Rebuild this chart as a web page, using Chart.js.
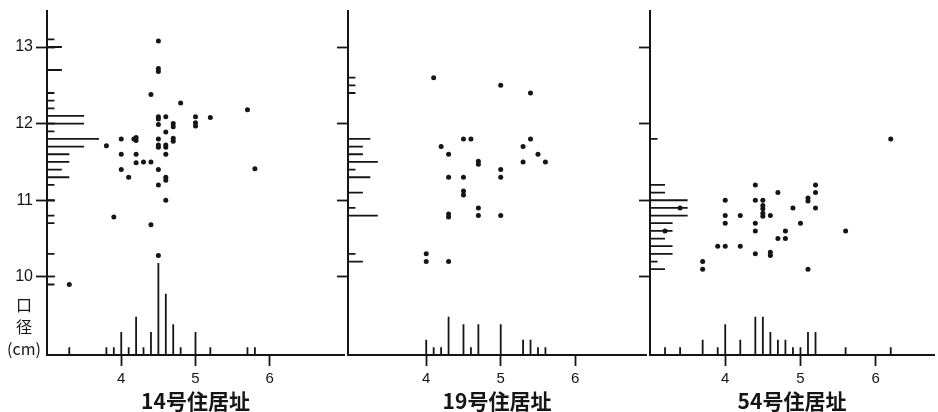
<!DOCTYPE html>
<html>
<head>
<meta charset="utf-8">
<script src="https://cdn.jsdelivr.net/npm/chart.js@4.4.0/dist/chart.umd.min.js"></script>
<style>
  body { margin: 0; background: #fff; }
  #wrap { position: relative; width: 938px; height: 412px; overflow: hidden; background: #fff; }
  .panel { position: absolute; top: 0; }
  #ylabel { position: absolute; left: 0; top: 293px; width: 48px; text-align: center;
            font: 16px/22px 'Noto Sans CJK JP'; color: #151515; }
</style>
</head>
<body>
<div id="wrap">
  <canvas id="c14" class="panel" width="348" height="412" style="left:0"></canvas>
  <canvas id="c19" class="panel" width="349" height="412" style="left:301px"></canvas>
  <canvas id="c54" class="panel" width="335" height="412" style="left:603px"></canvas>
  <div id="ylabel">口<br>径<br>(cm)</div>
</div>
<script>
// tick values shared by the three panels
const yTicks = [10, 11, 12, 13];
const xTicks = [4, 5, 6];
const titles = ['14号住居址', '19号住居址', '54号住居址'];

// 14号住居址 : points (x = bottom axis, y = 口径)
const h14X = [3.3, 3.8, 3.9, 4.0, 4.0, 4.0, 4.1, 4.17, 4.2, 4.2, 4.2, 4.2, 4.3, 4.4, 4.4, 4.4,
              4.5, 4.5, 4.5, 4.5, 4.5, 4.5, 4.5, 4.5, 4.5, 4.5, 4.5, 4.5,
              4.6, 4.6, 4.6, 4.6, 4.6, 4.6, 4.6, 4.6, 4.7, 4.7, 4.7, 4.7, 4.8,
              5.0, 5.0, 5.0, 5.2, 5.7, 5.8];
const h14Y = [9.9, 11.71, 10.78, 11.8, 11.6, 11.4, 11.3, 11.8, 11.82, 11.78, 11.6, 11.49, 11.5, 12.38, 11.5, 10.68,
              13.08, 12.72, 12.68, 12.09, 12.06, 11.99, 11.8, 11.72, 11.69, 11.4, 11.2, 10.28,
              12.09, 11.89, 11.72, 11.69, 11.6, 11.3, 11.26, 11.0, 12.0, 11.96, 11.81, 11.77, 12.27,
              12.09, 12.01, 11.97, 12.08, 12.18, 11.41];
const h14BinX = [3.3, 3.8, 3.9, 4.0, 4.1, 4.2, 4.3, 4.4, 4.5, 4.6, 4.7, 4.8, 5.0, 5.2, 5.7, 5.8];
const h14CntX = [1, 1, 1, 3, 1, 5, 1, 3, 12, 8, 4, 1, 3, 1, 1, 1];
const h14BinY = [13.1, 13.0, 12.7, 12.4, 12.3, 12.2, 12.1, 12.0, 11.9, 11.8, 11.7, 11.6, 11.5, 11.4, 11.3, 11.2, 11.0, 10.8, 10.7, 10.3, 9.9];
const h14CntY = [1, 2, 2, 1, 1, 1, 5, 5, 1, 7, 5, 3, 3, 2, 3, 1, 1, 1, 1, 1, 1];

// 19号住居址
const h19X = [4.0, 4.0, 4.1, 4.2, 4.3, 4.3, 4.3, 4.3, 4.3, 4.5, 4.5, 4.5, 4.5, 4.6,
              4.7, 4.7, 4.7, 4.7, 5.0, 5.0, 5.0, 5.0, 5.3, 5.3, 5.4, 5.4, 5.5, 5.6];
const h19Y = [10.3, 10.2, 12.6, 11.7, 11.6, 11.3, 10.82, 10.78, 10.2, 11.8, 11.3, 11.12, 11.07, 11.8,
              11.51, 11.47, 10.9, 10.8, 12.5, 11.4, 11.3, 10.8, 11.7, 11.5, 12.4, 11.8, 11.6, 11.5];
const h19BinX = [4.0, 4.1, 4.2, 4.3, 4.5, 4.6, 4.7, 5.0, 5.3, 5.4, 5.5, 5.6];
const h19CntX = [2, 1, 1, 5, 4, 1, 4, 4, 2, 2, 1, 1];
const h19BinY = [12.6, 12.5, 12.4, 11.8, 11.7, 11.6, 11.5, 11.4, 11.3, 11.1, 10.9, 10.8, 10.3, 10.2];
const h19CntY = [1, 1, 1, 3, 2, 2, 4, 1, 3, 2, 1, 4, 1, 2];

// 54号住居址
const h54X = [3.2, 3.4, 3.7, 3.7, 3.9, 4.0, 4.0, 4.0, 4.0, 4.2, 4.2, 4.4, 4.4, 4.4, 4.4, 4.4,
              4.5, 4.5, 4.5, 4.5, 4.5, 4.6, 4.6, 4.6, 4.7, 4.7, 4.8, 4.8, 4.9, 5.0,
              5.1, 5.1, 5.1, 5.2, 5.2, 5.2, 5.6, 6.2];
const h54Y = [10.6, 10.9, 10.2, 10.1, 10.4, 11.0, 10.8, 10.7, 10.4, 10.8, 10.4, 11.2, 11.0, 10.7, 10.6, 10.3,
              11.0, 10.93, 10.89, 10.83, 10.79, 10.8, 10.32, 10.28, 11.1, 10.5, 10.6, 10.5, 10.9, 10.7,
              11.03, 10.99, 10.1, 11.2, 11.1, 10.9, 10.6, 11.8];
const h54BinX = [3.2, 3.4, 3.7, 3.9, 4.0, 4.2, 4.4, 4.5, 4.6, 4.7, 4.8, 4.9, 5.0, 5.1, 5.2, 5.6, 6.2];
const h54CntX = [1, 1, 2, 1, 4, 2, 5, 5, 3, 2, 2, 1, 1, 3, 3, 1, 1];
const h54BinY = [11.8, 11.2, 11.1, 11.0, 10.9, 10.8, 10.7, 10.6, 10.5, 10.4, 10.3, 10.2, 10.1];
const h54CntY = [1, 2, 2, 5, 5, 5, 3, 3, 2, 3, 3, 1, 2];

const INK = '#151515';
const Y_MIN = 8.98, Y_MAX = 13.47;
const PER_COUNT = 0.1; // one item = 0.1 unit of bar length

// histogram stems along an axis, separated by gaps
function stems(bins, counts, base, horizontal) {
    const out = [];
    bins.forEach((b, i) => {
        const tip = base + counts[i] * PER_COUNT;
        if (horizontal) out.push({ x: base, y: b }, { x: tip, y: b });
        else out.push({ x: b, y: base }, { x: b, y: tip });
        out.push({ x: null, y: null });
    });
    return out;
}

function makePanel(id, cfg) {
    const stemStyle = {
        showLine: true, borderColor: INK, borderWidth: 1.8,
        pointRadius: 0, spanGaps: false, clip: false,
    };
    const scales = {
        x: {
            type: 'linear', min: cfg.xMin, max: cfg.xMax,
            afterBuildTicks: (s) => { s.ticks = xTicks.map((v) => ({ value: v })); },
            afterFit: (s) => { s.height = 57; },
            grid: { drawOnChartArea: false, tickLength: 11, tickWidth: 1.8, tickColor: INK },
            border: { display: true, color: INK, width: 2 },
            ticks: { color: INK, padding: 4, font: { family: 'Liberation Sans', size: 15 }, callback: (v) => String(v) },
            title: {
                display: true, text: cfg.title, color: INK, padding: 0,
                font: { family: "'Noto Sans CJK JP', sans-serif", size: 21, weight: 'bold', lineHeight: 1 },
            },
        },
        y: {
            type: 'linear', position: 'left', min: Y_MIN, max: Y_MAX, weight: 1,
            afterBuildTicks: (s) => { s.ticks = yTicks.map((v) => ({ value: v })); },
            afterFit: (s) => { s.width = 47; },
            grid: { drawOnChartArea: false, tickLength: 11, tickWidth: 1.8, tickColor: INK },
            border: { display: true, color: INK, width: 2 },
            ticks: {
                display: cfg.labels, color: INK, padding: 3,
                font: { family: 'Liberation Sans', size: 16, lineHeight: 1 },
                callback: (v) => String(v),
            },
        },
    };
    if (cfg.labels) {
        // first panel: tick marks cross the axis
        scales.y2 = {
            type: 'linear', position: 'left', min: Y_MIN, max: Y_MAX, weight: 0,
            afterBuildTicks: (s) => { s.ticks = yTicks.map((v) => ({ value: v })); },
            afterFit: (s) => { s.width = 0; },
            grid: { drawOnChartArea: false, tickLength: -8, tickWidth: 1.8, tickColor: INK },
            border: { display: false },
            ticks: { display: false },
        };
    }
    return new Chart(document.getElementById(id), {
        type: 'scatter',
        data: {
            datasets: [
                { ...stemStyle, data: stems(cfg.binX, cfg.cntX, Y_MIN, false) },
                { ...stemStyle, data: stems(cfg.binY, cfg.cntY, cfg.xMin, true) },
                {
                    data: cfg.xs.map((x, i) => ({ x: x, y: cfg.ys[i] })),
                    pointRadius: 2.5, pointBackgroundColor: INK, pointBorderWidth: 0, showLine: false,
                },
            ],
        },
        options: {
            responsive: false,
            animation: false,
            devicePixelRatio: 1,
            events: [],
            layout: { padding: { top: 11, right: 0, bottom: 0, left: 0 } },
            plugins: { legend: { display: false }, tooltip: { enabled: false } },
            scales: scales,
        },
    });
}

makePanel('c14', { title: titles[0], xs: h14X, ys: h14Y, binX: h14BinX, cntX: h14CntX,
    binY: h14BinY, cntY: h14CntY, xMin: 3, xMax: 7, labels: true });
makePanel('c19', { title: titles[1], xs: h19X, ys: h19Y, binX: h19BinX, cntX: h19CntX,
    binY: h19BinY, cntY: h19CntY, xMin: 2.95, xMax: 6.95, labels: false });
makePanel('c54', { title: titles[2], xs: h54X, ys: h54Y, binX: h54BinX, cntX: h54CntX,
    binY: h54BinY, cntY: h54CntY, xMin: 3, xMax: 6.775, labels: false });
</script>
</body>
</html>
